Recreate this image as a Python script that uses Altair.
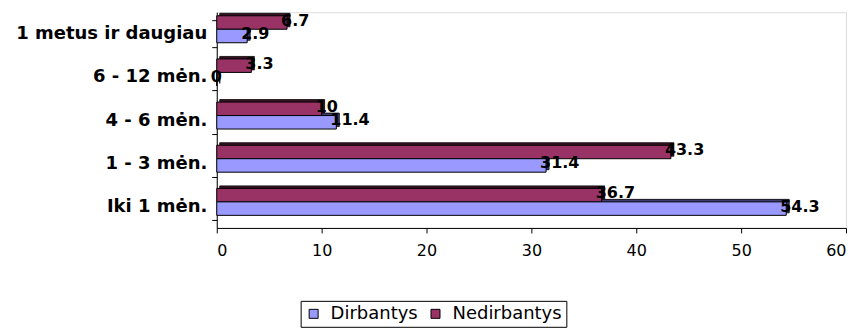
import altair as alt
import pandas as pd

categories = ["1 metus ir daugiau", "6 - 12 mėn.", "4 - 6 mėn.", "1 - 3 mėn.", "Iki 1 mėn."]
series_names = ["Nedirbantys", "Dirbantys"]
dirbantys = [2.9, 0, 11.4, 31.4, 54.3]
nedirbantys = [6.7, 3.3, 10, 43.3, 36.7]
x_ticks = [0, 10, 20, 30, 40, 50, 60]

rows = []
for c, d, n in zip(categories, dirbantys, nedirbantys):
    rows.append({"cat": c, "series": "Nedirbantys", "value": n, "label": f"{n:g}"})
    rows.append({"cat": c, "series": "Dirbantys", "value": d, "label": f"{d:g}"})
df = pd.DataFrame(rows)

FONT = "DejaVu Sans"

yscale = alt.Scale(paddingInner=0.375, paddingOuter=0.1875)
xscale = alt.Scale(domain=[0, 60], nice=False)

y_enc = alt.Y("cat:N", sort=categories, title=None, scale=yscale,
              axis=alt.Axis(tickBand="extent", labelFont=FONT, labelFontSize=18,
                            labelFontWeight="bold", labelColor="black", labelPadding=5,
                            domainColor="black", tickColor="black", tickSize=5,
                            grid=False, labelLimit=300))
x_enc = alt.X("value:Q", title=None, scale=xscale,
              axis=alt.Axis(values=x_ticks, labelFont=FONT, labelFontSize=16,
                            labelColor="black", domainColor="black", tickColor="black",
                            tickSize=5, grid=False, labelPadding=10))

def yoff(rng):
    return alt.YOffset("series:N", sort=series_names,
                       scale=alt.Scale(paddingInner=0, paddingOuter=0, range=rng))

depth = alt.Chart(df).mark_bar(
    xOffset=3, x2Offset=3, stroke="black", strokeWidth=0.8
).encode(
    x=x_enc, y=y_enc, yOffset=yoff([-7, 20]),
    color=alt.Color("series:N", scale=alt.Scale(domain=series_names, range=["#3a1226", "#3c3c70"]), legend=None),
)

front = alt.Chart(df).mark_bar(
    stroke="black", strokeWidth=1
).encode(
    x=x_enc, y=y_enc, yOffset=yoff([-4.5, 22.5]),
    fill=alt.Fill("series:N",
                  scale=alt.Scale(domain=["Dirbantys", "Nedirbantys"], range=["#9999FF", "#993366"]),
                  legend=alt.Legend(title=None, orient="none", legendX=84, legendY=289,
                                    direction="horizontal", symbolType="square",
                                    symbolSize=81, symbolStrokeColor="black", symbolStrokeWidth=1,
                                    labelFont=FONT, labelFontSize=18, labelColor="black",
                                    labelOffset=8, strokeColor="black", fillColor="white",
                                    padding=4, columnPadding=8, symbolOffset=0)),
)

labels = alt.Chart(df).mark_text(
    align="left", baseline="middle", dx=-6, dy=-2, font=FONT, fontSize=16,
    fontWeight="bold", color="black"
).encode(
    x=alt.X("value:Q", scale=xscale),
    y=alt.Y("cat:N", sort=categories, scale=yscale),
    yOffset=alt.YOffset("series:N", sort=series_names,
                        scale=alt.Scale(padding=0, range=[2.25, 15.75])),
    text="label:N",
)

chart = alt.layer(depth, front, labels).resolve_scale(
    yOffset="independent"
).properties(
    width=630, height=216,
    autosize=alt.AutoSizeParams(type="none"),
    padding={"left": 209, "top": 4, "right": 10, "bottom": 100},
).configure_view(stroke=None).configure(background="white")

chart.save("out.html", embed_options={"renderer": "svg", "actions": False})
